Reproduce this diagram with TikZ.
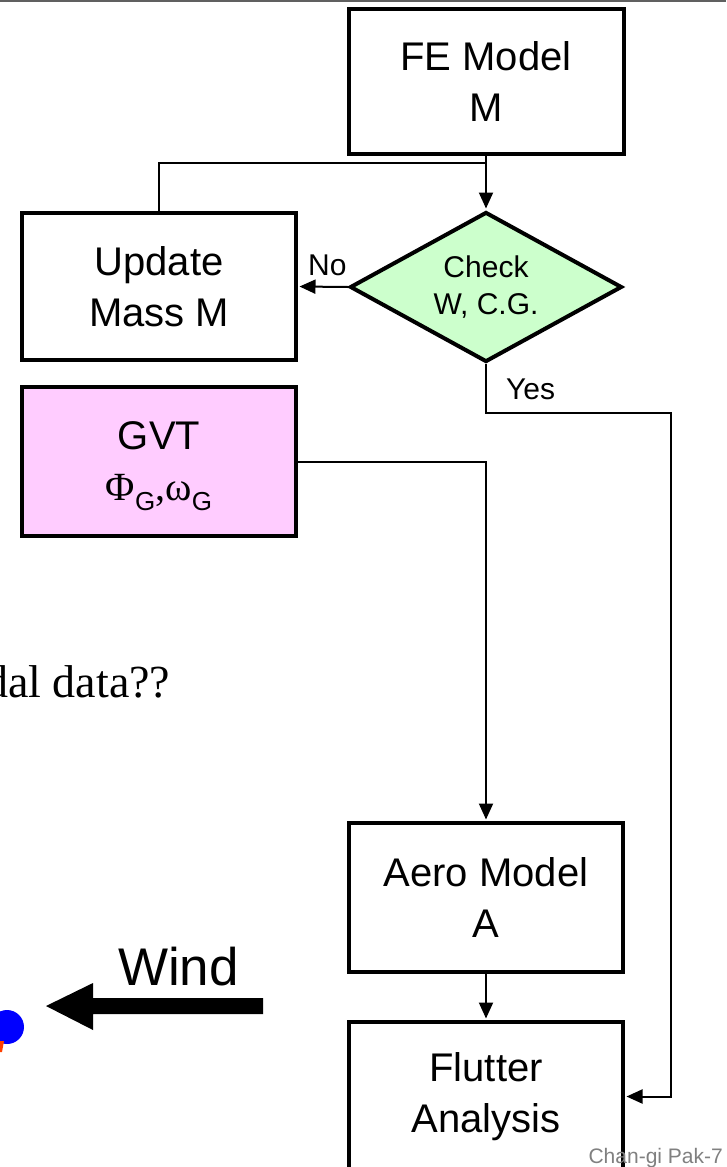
\documentclass[tikz,border=0pt]{standalone}
\usepackage{fontspec}
\setmainfont{Liberation Sans}
\newfontfamily\timesfont{Liberation Serif}
\usetikzlibrary{shapes.geometric,arrows.meta}
\definecolor{checkgreen}{RGB}{204,255,204}
\definecolor{gvtpink}{RGB}{255,204,255}
\definecolor{rulegray}{RGB}{96,96,96}
\definecolor{footgray}{RGB}{128,128,128}
\definecolor{markorange}{RGB}{255,64,0}
\newcommand{\gsub}{\raisebox{-10pt}{\fontsize{26}{26}\selectfont G}}

\begin{document}
\begin{tikzpicture}[x=1pt,y=-1pt,
  stepbox/.style={draw, line width=4pt, minimum width=274pt, minimum height=147pt,
    inner sep=0pt, align=center, font=\fontsize{40}{51}\selectfont},
  decision/.style={diamond, draw, line width=4pt, fill=checkgreen,
    minimum width=272pt, minimum height=150pt, aspect=1.81, inner sep=0pt,
    align=center, font=\fontsize{30}{37}\selectfont},
  link/.style={line width=2pt},
  flow/.style={link, shorten >=1.5pt, -{Triangle[length=16pt,width=14pt]}},
  lbl/.style={inner sep=0pt, anchor=base west, font=\fontsize{30}{36}\selectfont},
]
\clip (0,0) rectangle (726,1167);
\fill[white] (0,0) rectangle (726,1167);

% rule along the top edge
\draw[rulegray, line width=2.5pt] (0,1) -- (726,1);

% flowchart blocks
\node[stepbox, minimum width=275pt, minimum height=145pt] (fe) at (486,81.5) {FE Model\\M};
\node[decision] (check) at (486,287) {Check\\W, C.G.};
\node[stepbox] (update) at (159,286.5) {Update\\Mass M};
\node[stepbox, fill=gvtpink, minimum height=149pt, text depth=0pt] (gvt) at (159,461.5)
  {GVT\\{\timesfont Φ}\gsub{\timesfont ,ω}\gsub};
\node[stepbox, minimum height=149pt] (aero) at (486,897.5) {Aero Model\\A};
\node[stepbox, minimum height=149pt] (flutter) at (486,1096.5) {Flutter\\Analysis};

% connectors
\coordinate (join) at (486,163);
\coordinate (yesturn) at (671,413);
\draw[flow] (fe.south) -- (check.north);
\draw[link] (update.north) |- (join);
\draw[flow] (check.west) -- (update.east);
\draw[flow] (check.south) |- (yesturn) |- (flutter.east);
\draw[flow] (gvt.east) -| (aero.north);
\draw[flow] (aero.south) -- (flutter.north);

% branch labels
\node[lbl] (nolabel) at (308,275) {No};
\node[lbl] (yeslabel) at (506,399) {Yes};

% side text
\node[anchor=base west, inner sep=0pt, font=\timesfont\fontsize{46}{52}\selectfont]
  (question) at (-15,697) {dal data??};

% wind direction
\node[anchor=base west, inner sep=0pt, font=\fontsize{53}{60}\selectfont] (wind) at (118,985) {Wind};
\fill (263,998) -- (93,998) -- (93,983) -- (46,1006) -- (93,1030) -- (93,1014) -- (263,1014) -- cycle;

% model marker
\fill[blue] (7,1027) circle (17pt);
\fill[markorange] (0,1041) -- (4,1041) -- (2,1052) -- (0,1052) -- cycle;

% footer
\node[anchor=base east, inner sep=0pt, text=footgray, font=\fontsize{21}{24}\selectfont]
  (credit) at (723,1163) {Chan-gi Pak-7};
\end{tikzpicture}
\end{document}
